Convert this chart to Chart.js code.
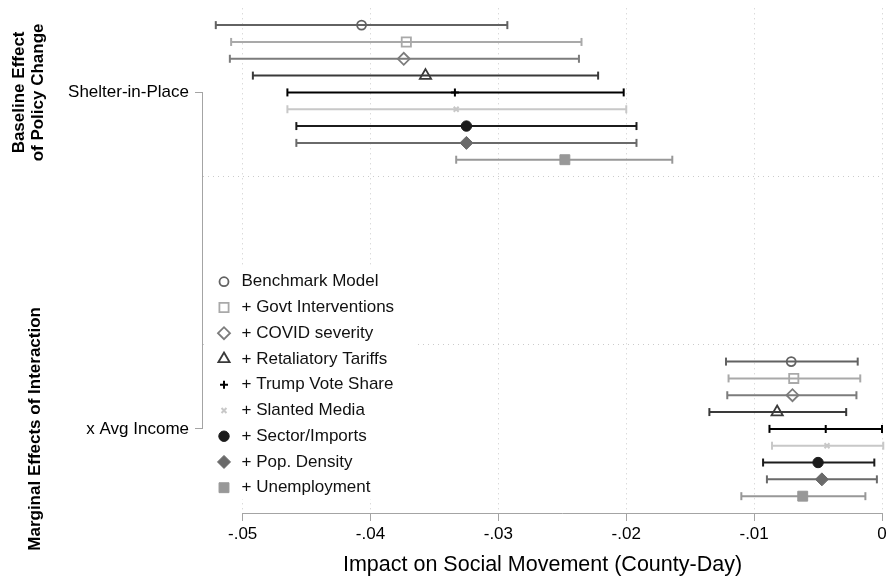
<!DOCTYPE html>
<html>
<head>
<meta charset="utf-8">
<title>Impact on Social Movement</title>
<script src="https://cdn.jsdelivr.net/npm/chart.js@4.4.1/dist/chart.umd.min.js"></script>
<style>
  html, body { margin: 0; padding: 0; background: #fff; }
  #wrap { width: 891px; height: 581px; }
</style>
</head>
<body>
<div id="wrap"><canvas id="coef" width="891" height="581"></canvas></div>
<script>
// model specifications (legend order, top to bottom within each group)
const models = [
  'Benchmark Model',
  '+ Govt Interventions',
  '+ COVID severity',
  '+ Retaliatory Tariffs',
  '+ Trump Vote Share',
  '+ Slanted Media',
  '+ Sector/Imports',
  '+ Pop. Density',
  '+ Unemployment'
];
const groupLabels = ['Shelter-in-Place', 'x Avg Income'];
const groupTitles = [['Baseline Effect', 'of Policy Change'], ['Marginal Effects of Interaction']];
const xTicks = [-0.05, -0.04, -0.03, -0.02, -0.01, 0];
const xTitle = 'Impact on Social Movement (County-Day)';

// Shelter-in-Place coefficient and 95% CI
const baseEst = [-0.0407, -0.0372, -0.0374, -0.0357, -0.0334, -0.0333, -0.0325, -0.0325, -0.0248];
const baseLo  = [-0.0521, -0.0509, -0.0510, -0.0492, -0.0465, -0.0465, -0.0458, -0.0458, -0.0333];
const baseHi  = [-0.0293, -0.0235, -0.0237, -0.0222, -0.0202, -0.0200, -0.0192, -0.0192, -0.0164];

// interaction with avg income
const incEst = [-0.0071, -0.0069, -0.0070, -0.0082, -0.0044, -0.0043, -0.0050, -0.0047, -0.0062];
const incLo  = [-0.0122, -0.0120, -0.0121, -0.0135, -0.0088, -0.0086, -0.0093, -0.0090, -0.0110];
const incHi  = [-0.0019, -0.0017, -0.0020, -0.0028,  0.0000,  0.0001, -0.0006, -0.0004, -0.0013];

// marker look per model
const styles = [
  {color: '#626262', point: 'circle',   r: 4.5, fill: false},
  {color: '#a9a9a9', point: 'rect',     r: 6.5, fill: false},
  {color: '#7c7c7c', point: 'rectRot',  r: 6,   fill: false},
  {color: '#3a3a3a', point: 'triangle', r: 6.5, fill: false},
  {color: '#000000', point: 'cross',    r: 4,   fill: false},
  {color: '#c8c8c8', point: 'crossRot', r: 3.5, fill: false},
  {color: '#1c1c1c', point: 'circle',   r: 5.2, fill: true},
  {color: '#6a6a6a', point: 'rectRot',  r: 6.5, fill: true},
  {color: '#989898', point: 'rect',     r: 7,   fill: true}
];

const FONT = '"Liberation Sans", Arial, Helvetica, sans-serif';
const GRID = '#cbcbcb';
const AXIS = '#a4a4a4';

// row index on the y axis: group g, model i  (gap of 11 rows between groups)
function rowY(g, i) { return g * 20 + i + 1; }
const groupTicks = [rowY(0, 4), rowY(1, 4)];
const sepTicks = [10, 20];

function fmtX(v) {
  if (Math.abs(v) < 1e-9) return '0';
  return (Math.round(v * 100) / 100).toFixed(2).replace('0.', '.');
}

const datasets = [];
models.forEach((name, i) => {
  const s = styles[i];
  // confidence interval whiskers, a null point breaks the line between groups
  datasets.push({
    label: name + ' CI',
    showLine: true,
    order: 2,
    data: [
      {x: baseLo[i], y: rowY(0, i)}, {x: baseHi[i], y: rowY(0, i)},
      {x: null, y: null},
      {x: incLo[i], y: rowY(1, i)}, {x: incHi[i], y: rowY(1, i)}
    ],
    borderColor: s.color,
    borderWidth: 2,
    pointStyle: 'line',
    pointRotation: 90,
    pointRadius: 4,
    pointBorderWidth: 2,
    pointBorderColor: s.color,
    spanGaps: false,
    clip: false
  });
  // point estimates
  datasets.push({
    label: name,
    order: 1,
    data: [{x: baseEst[i], y: rowY(0, i)}, {x: incEst[i], y: rowY(1, i)}],
    pointStyle: s.point,
    pointRadius: s.r,
    pointBorderColor: s.color,
    pointBackgroundColor: s.fill ? s.color : 'rgba(0,0,0,0)',
    pointBorderWidth: s.fill ? 1 : (s.point === 'cross' || s.point === 'crossRot' ? 2 : 1.8),
    clip: false
  });
});

function marker(ctx, s, x, y) {
  ctx.save();
  ctx.strokeStyle = s.color;
  ctx.fillStyle = s.fill ? s.color : 'rgba(0,0,0,0)';
  ctx.lineWidth = s.fill ? 1 : (s.point === 'cross' || s.point === 'crossRot' ? 2 : 1.8);
  if (Chart.helpers && Chart.helpers.drawPoint) {
    Chart.helpers.drawPoint(ctx, {pointStyle: s.point, radius: s.r, rotation: 0, borderWidth: ctx.lineWidth}, x, y);
  } else {
    ctx.beginPath(); ctx.arc(x, y, s.r, 0, Math.PI * 2); ctx.fill(); ctx.stroke();
  }
  ctx.restore();
}

// legend box, axis lines that only span the labelled ticks, group titles
const decor = {
  id: 'decor',
  afterDatasetsDraw(chart) {
    const {ctx, chartArea: a, scales: {x, y}} = chart;
    ctx.save();

    // legend (sits inside the plot region, white background)
    ctx.fillStyle = '#fff';
    ctx.fillRect(a.left + 2, 267, 213, 232);
    ctx.font = '17px ' + FONT;
    ctx.textBaseline = 'middle';
    ctx.textAlign = 'left';
    models.forEach((name, i) => {
      const cy = 281.7 + i * 25.75;
      marker(ctx, styles[i], 224, cy);
      ctx.fillStyle = '#111';
      ctx.fillText(name, 241.5, cy);
    });

    // axis lines
    ctx.strokeStyle = AXIS;
    ctx.lineWidth = 1;
    ctx.beginPath();
    ctx.moveTo(x.getPixelForValue(xTicks[0]), Math.round(a.bottom) + 0.5);
    ctx.lineTo(x.getPixelForValue(xTicks[xTicks.length - 1]), Math.round(a.bottom) + 0.5);
    const yx = Math.round(a.left) - 0.5;
    ctx.moveTo(yx, y.getPixelForValue(groupTicks[0]));
    ctx.lineTo(yx, y.getPixelForValue(groupTicks[1]));
    ctx.stroke();

    // rotated group titles
    ctx.fillStyle = '#000';
    ctx.font = 'bold 17px ' + FONT;
    ctx.textAlign = 'center';
    const titleX = [29, 35.5];
    groupTitles.forEach((lines, g) => {
      ctx.save();
      ctx.translate(titleX[g], y.getPixelForValue(groupTicks[g]));
      ctx.rotate(-Math.PI / 2);
      lines.forEach((t, k) => ctx.fillText(t, 0, (k - (lines.length - 1) / 2) * 19));
      ctx.restore();
    });

    ctx.restore();
  }
};

Chart.defaults.font.family = FONT;
Chart.defaults.color = '#000';

new Chart(document.getElementById('coef'), {
  type: 'scatter',
  data: {datasets},
  plugins: [decor],
  options: {
    responsive: false,
    animation: false,
    events: [],
    devicePixelRatio: 1,
    layout: {padding: {top: 6, right: 9, bottom: 0, left: 0}},
    plugins: {legend: {display: false}, tooltip: {enabled: false}},
    scales: {
      x: {
        type: 'linear',
        min: -0.0531,
        max: 0,
        afterBuildTicks: s => { s.ticks = xTicks.map(v => ({value: v})); },
        afterFit: s => { s.height = 68; s.paddingLeft = 0; s.paddingRight = 0; },
        ticks: {callback: v => fmtX(v), font: {size: 17}, color: '#000', padding: 3, maxRotation: 0, autoSkip: false},
        grid: {color: GRID, lineWidth: 1, tickColor: AXIS, tickLength: 8, tickWidth: 1},
        border: {display: false, dash: [1, 4]},
        title: {display: true, text: xTitle, font: {size: 21.5}, color: '#000', padding: {top: 0, bottom: 3}}
      },
      y: {
        type: 'linear',
        reverse: true,
        min: 0,
        max: 30,
        afterBuildTicks: s => { s.ticks = groupTicks.concat(sepTicks).sort((p, q) => p - q).map(v => ({value: v})); },
        afterFit: s => { s.width = 203; s.paddingTop = 0; s.paddingBottom = 0; },
        ticks: {
          callback: v => v === groupTicks[0] ? groupLabels[0] : (v === groupTicks[1] ? groupLabels[1] : ''),
          font: {size: 17}, color: '#000', padding: 6, autoSkip: false
        },
        grid: {
          color: c => (c.tick && sepTicks.includes(c.tick.value)) ? GRID : 'rgba(0,0,0,0)',
          tickColor: c => (c.tick && groupTicks.includes(c.tick.value)) ? AXIS : 'rgba(0,0,0,0)',
          tickLength: 8,
          lineWidth: 1
        },
        border: {display: false, dash: [1, 4]}
      }
    }
  }
});
</script>
</body>
</html>
